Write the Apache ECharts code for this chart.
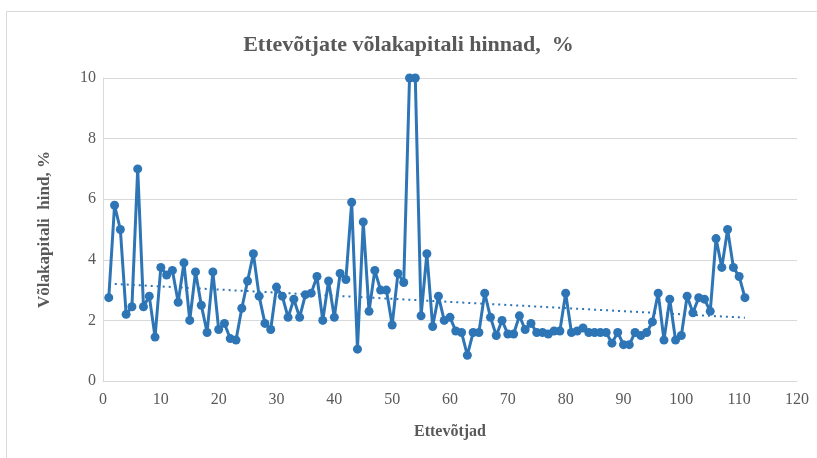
<!DOCTYPE html>
<html>
<head>
<meta charset="utf-8">
<script src="https://cdn.jsdelivr.net/npm/echarts@6/dist/echarts.min.js"></script>
<style>
  html, body { margin: 0; padding: 0; background: #fff; }
  #chart { width: 817px; height: 458px; }
</style>
</head>
<body>
<div id="chart"></div>
<script>
// võlakapitali hind, % (ettevõtjad 1..111)
var hinnad = [
    2.75, 5.8, 5.0, 2.2, 2.45, 7.0, 2.45, 2.8, 1.45, 3.75,
    3.5, 3.65, 2.6, 3.9, 2.0, 3.6, 2.5, 1.6, 3.6, 1.7,
    1.9, 1.4, 1.35, 2.4, 3.3, 4.2, 2.8, 1.9, 1.7, 3.1,
    2.8, 2.1, 2.7, 2.1, 2.85, 2.9, 3.45, 2.0, 3.3, 2.1,
    3.55, 3.35, 5.9, 1.05, 5.25, 2.3, 3.65, 3.0, 3.0, 1.85,
    3.55, 3.25, 10, 10, 2.15, 4.2, 1.8, 2.8, 2.0, 2.1,
    1.65, 1.6, 0.85, 1.6, 1.6, 2.9, 2.1, 1.5, 2.0, 1.55,
    1.55, 2.15, 1.7, 1.9, 1.6, 1.6, 1.55, 1.65, 1.65, 2.9,
    1.6, 1.65, 1.75, 1.6, 1.6, 1.6, 1.6, 1.25, 1.6, 1.2,
    1.2, 1.6, 1.5, 1.6, 1.95, 2.9, 1.35, 2.7, 1.35, 1.5,
    2.8, 2.25, 2.75, 2.7, 2.3, 4.7, 3.75, 5.0, 3.75, 3.45,
    2.75
];
var xTicks = [0, 120, 10];
var yTicks = [0, 10, 2];

var punktid = [];
for (var i = 0; i < hinnad.length; i++) {
    punktid.push([i + 1, hinnad[i]]);
}

// lineaarne trend (vähimruutude meetod)
var n = punktid.length, sx = 0, sy = 0, sxx = 0, sxy = 0;
for (var j = 0; j < n; j++) {
    sx += punktid[j][0]; sy += punktid[j][1];
    sxx += punktid[j][0] * punktid[j][0]; sxy += punktid[j][0] * punktid[j][1];
}
var b = (n * sxy - sx * sy) / (n * sxx - sx * sx);
var a = (sy - b * sx) / n;
var trend = [];
for (var k = 1; k <= n; k++) {
    trend.push([k, a + b * k]);
}

var serif = '"Liberation Serif", "DejaVu Serif", serif';
var chart = echarts.init(document.getElementById('chart'));
var option = {
    backgroundColor: '#fff',
    animation: false,
    graphic: [{
        type: 'rect',
        shape: {x: 6.5, y: 11.5, width: 830, height: 470},
        style: {fill: 'none', stroke: '#d9d9d9', lineWidth: 1}
    }],
    title: {
        text: 'Ettevõtjate võlakapitali hinnad,  %',
        left: 'center',
        top: 29,
        textStyle: {fontFamily: serif, fontSize: 22, fontWeight: 'bold', color: '#595959'}
    },
    grid: {left: 103, right: 20, top: 78, bottom: 77},
    xAxis: {
        type: 'value',
        min: xTicks[0], max: xTicks[1], interval: xTicks[2],
        name: 'Ettevõtjad',
        nameLocation: 'middle',
        nameGap: 43,
        nameTextStyle: {fontFamily: serif, fontSize: 16, fontWeight: 'bold', color: '#595959'},
        axisLine: {lineStyle: {color: '#d9d9d9', width: 1}},
        axisTick: {show: false},
        splitLine: {show: false},
        axisLabel: {fontFamily: serif, fontSize: 16, color: '#595959', margin: 11}
    },
    yAxis: {
        type: 'value',
        min: yTicks[0], max: yTicks[1], interval: yTicks[2],
        name: 'Võlakapitali  hind, %',
        nameLocation: 'middle',
        nameGap: 50,
        nameTextStyle: {fontFamily: serif, fontSize: 17, fontWeight: 'bold', color: '#595959'},
        axisLine: {show: true, lineStyle: {color: '#d9d9d9', width: 1}},
        axisTick: {show: false},
        splitLine: {lineStyle: {color: '#d9d9d9', width: 1}},
        axisLabel: {fontFamily: serif, fontSize: 16, color: '#595959', margin: 7}
    },
    series: [
        {
            name: 'Võlakapitali hind',
            type: 'line',
            data: punktid,
            symbol: 'circle',
            symbolSize: 9,
            lineStyle: {color: '#2e75b6', width: 3},
            itemStyle: {color: '#2e75b6'},
            z: 3
        },
        {
            name: 'Trend',
            type: 'line',
            data: trend,
            symbol: 'none',
            lineStyle: {color: '#2e75b6', width: 2, type: [2, 4]},
            z: 2
        }
    ]
};
chart.setOption(option);
</script>
</body>
</html>
